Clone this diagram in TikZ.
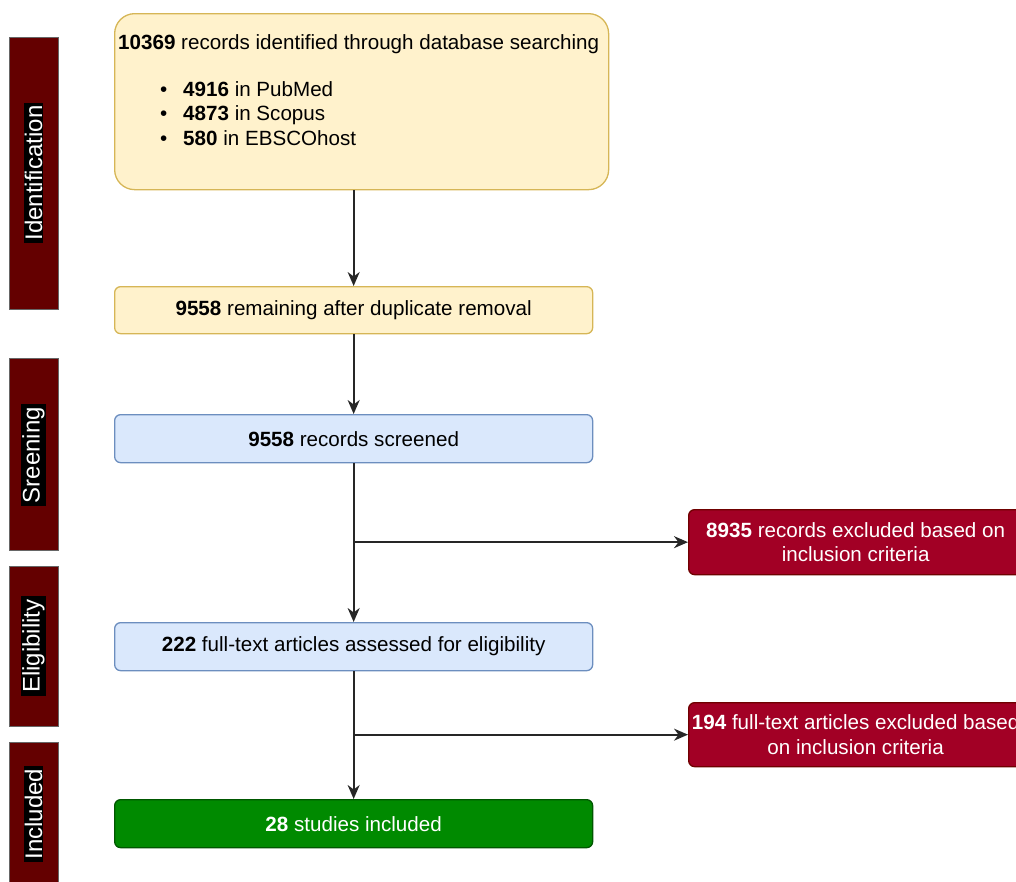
\documentclass[tikz,border=0pt]{standalone}
\usepackage{fontspec}
\setmainfont{Liberation Sans}
\usetikzlibrary{arrows.meta,calc}
\definecolor{ylfill}{HTML}{FFF2CC}
\definecolor{yldraw}{HTML}{D6B656}
\definecolor{blfill}{HTML}{DAE8FC}
\definecolor{bldraw}{HTML}{6C8EBF}
\definecolor{grfill}{HTML}{008A00}
\definecolor{grdraw}{HTML}{005700}
\definecolor{rdfill}{HTML}{A20025}
\definecolor{rddraw}{HTML}{6F0000}
\definecolor{barfill}{HTML}{640000}
\tikzset{
  base/.style={font=\fontsize{20.6}{24.5}\selectfont, line width=1.3pt, rounded corners=6pt, inner sep=0pt, anchor=north west},
  yellowbox/.style={base, fill=ylfill, draw=yldraw},
  bluebox/.style={base, fill=blfill, draw=bldraw},
  greenbox/.style={base, fill=grfill, draw=grdraw, text=white},
  redbox/.style={base, fill=rdfill, draw=rddraw, text=white, align=center},
  phasebar/.style={fill=barfill, draw=black!60, line width=1pt},
  phaselabel/.style={rotate=90, fill=black, text=white, font=\fontsize{24}{28}\selectfont, inner xsep=3pt, inner ysep=1pt},
  txt/.style={font=\fontsize{20.6}{24.5}\selectfont, inner sep=0pt, anchor=base west},
  flow/.style={line width=2pt, draw=black!85, -{Stealth[length=14pt,width=12pt,inset=4.5pt]}}
}
\begin{document}
\begin{tikzpicture}[x=1pt,y=-1pt]
\useasboundingbox (0,0) rectangle (1016,881);
% phase bars
\draw[phasebar] (9,37) rectangle (58,309);
\node[phaselabel] (lid) at (33.5,173) {Identification};
\draw[phasebar] (9,358) rectangle (58,550);
\node[phaselabel] (lsc) at (33.5,455) {Sreening};
\draw[phasebar] (9,566) rectangle (58,726);
\node[phaselabel] (lel) at (33.5,646) {Eligibility};
\draw[phasebar] (9,742) rectangle (58,895);
\node[phaselabel] (lin) at (33.5,814) {Included};
% boxes
\node[yellowbox, rounded corners=20pt, minimum width=494pt, minimum height=176pt] (top) at (114,13) {};
\node[txt] (t0) at (118,49) {\textbf{10369} records identified through database searching};
\node[txt] (b1) at (160,96) {•};
\node[txt] (t1) at (183,96) {\textbf{4916} in PubMed};
\node[txt] (b2) at (160,120) {•};
\node[txt] (t2) at (183,120) {\textbf{4873} in Scopus};
\node[txt] (b3) at (160,145) {•};
\node[txt] (t3) at (183,145) {\textbf{580} in EBSCOhost};
\node[yellowbox, minimum width=478pt, minimum height=47pt] (dup) at (114,286) {\textbf{9558} remaining after duplicate removal};
\node[bluebox, minimum width=478pt, minimum height=48pt] (scr) at (114,414) {\textbf{9558} records screened};
\node[bluebox, minimum width=478pt, minimum height=48pt] (elg) at (114,622) {\textbf{222} full-text articles assessed for eligibility};
\node[greenbox, minimum width=478pt, minimum height=48pt] (inc) at (114,799) {\textbf{28} studies included};
\node[redbox, minimum width=334pt, minimum height=65pt] (ex1) at (688,509) {\textbf{8935} records excluded based on\\inclusion criteria};
\node[redbox, minimum width=334pt, minimum height=64pt] (ex2) at (688,702) {\textbf{194} full-text articles excluded based\\on inclusion criteria};
% connectors
\draw[flow] (dup.north |- top.south) -- (dup.north);
\draw[flow] (dup.south) -- (scr.north);
\draw[flow] (scr.south) -- (elg.north);
\draw[flow] (elg.south) -- (inc.north);
\coordinate (j1) at (scr.south |- ex1.west);
\coordinate (j2) at (elg.south |- ex2.west);
\draw[flow] (j1) -- (ex1.west);
\draw[flow] (j2) -- (ex2.west);
\end{tikzpicture}
\end{document}
